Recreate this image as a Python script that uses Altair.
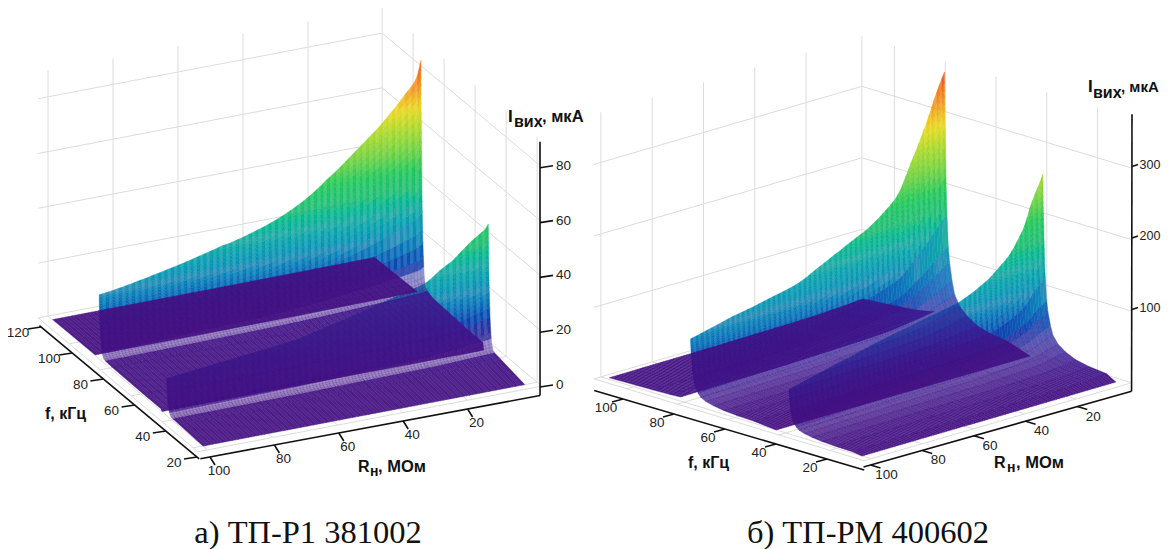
import altair as alt
import pandas as pd

alt.data_transformers.disable_max_rows()

# ---- values ----
R_COLS = list(range(100, 9, -2)) + list(range(9, 0, -1))

L_H1 = [23.4,23.7,24,24.4,24.8,25.2,25.7,26.1,26.6,27.1,27.6,28.1,28.6,29.1,29.7,30.3,30.9,31.5,32.1,32.8,33.1,33.7,34.3,35,35.7,36.5,37.3,38.2,39.2,40.3,41.5,42.8,44.2,45.8,47.5,49.5,51.2,53,55,57,59,61,63,65,67.4,69.8,71,72.3,73.6,75,76.3,77.5,79,81.5,86.5]
L_H2 = [13.5,13.7,14,14.2,14.5,14.7,15,15.2,15.5,15.7,16,16.2,16.5,16.7,17,17.2,17.5,17.8,18,18.3,18.6,19.1,19.7,20.2,20.7,21.3,21.9,22.4,23,23.6,24.2,24.8,25.4,26,26.6,27.2,27.8,28.4,29,29.6,30.4,32,33.8,35.2,36.5,38.6,39.6,40.6,41.6,42.5,43.3,44.1,44.9,45.7,47.5]
R_H1 = [91,92.7,94.4,96.1,97.8,99.5,101.3,103.2,105,106.2,107.5,108.8,110,111.7,113.3,115,116.5,118,119.5,121,122.8,125,128,131.5,135.5,139,142.5,146,150,153,157,160.5,164,167.5,170.5,175,180,185,191,197,204,215,231,248,263,280,289,297,307,317,327,336,345,353,361]
R_H2 = [62,63.8,65.5,67.3,69,70.8,72.5,74.3,76,77.8,79.5,81,82.5,84,86,88,90,91.5,93,94.5,96,97.5,99,100,101.5,103,104.5,106,107,108.5,110,111,112.5,114,117,120,123,127,131,135,141,147,153,160,170,182,188,196,206,218,227,235,243,250,260]

# distance below a resonance (kHz), share of the ridge height, face opacity
L_D = [40,30,8,4,3.5,3,2.6,2.2,1.9,1.6,1.3,1.1,.9,.78,.7,.62,.55,.47,.4,.34,.3,.25,.2,.16,.12,.09,.06,.03,0]
L_P = [.03,.03,.04,.05,.055,.06,.08,.1,.14,.18,.24,.3,.37,.41,.45,.49,.53,.57,.62,.66,.7,.74,.78,.82,.86,.9,.93,.96,1]
L_A = [.94,.94,.94,.94,.5,.5,.5,.5,.5,.85] + [.97] * 19
R_D = [34,25,18,13,9,6,4,3,2,1.5,1,.85,.7,.6,.52,.45,.38,.3,.25,.2,.16,.12,.09,.06,.03,0]
R_P = [.015,.03,.04,.055,.08,.11,.15,.2,.27,.33,.45,.49,.55,.6,.64,.68,.72,.76,.79,.82,.85,.88,.905,.93,.96,1]
R_A = [.95,.95,.93,.9,.85,.8,.76,.76,.84,.92,.95] + [.97] * 15
# distance above the far resonance and share of its height behind it
L_REAR = [(2.5,.012),(30,.005)]
R_REAR = [(4,.06),(8,.05),(15,.04),(32,.025)]

T_STOPS = [0,.05,.15,.27,.38,.46,.56,.72,.8,.88,1]
T_COLORS = ['#440f80','#3a1a92','#0c35a8','#2488b5','#1fa8a0','#1fbc74','#22c850','#a8d824','#e8d820','#f09a20','#f03c20']

F_TICKS_L = [120,100,80,60,40,20]
F_TICKS_R = [100,80,60,40,20]
R_TICKS = [100,80,60,40,20]
Z_TICKS_L = [0,20,40,60,80]
Z_TICKS_R = [100,200,300]
Z_LEVELS_L = [0,20,40,60,80]
Z_LEVELS_R = [0,100,200,300]

OX, OY = 8, 8
W, H = 1153, 541

left = dict(x0=203,y0=446,rx=3.25,ry=.62,fx=1.55,fy=1.30,fmin=20,zs=2.74,zmax=87,
            h1=L_H1,h2=L_H2,f1=87,f2=43.5,D=L_D,P=L_P,A=L_A,rear=L_REAR,gap2=3,
            fb=(17,120),rb=(103,-2.8),ztop=89.5,levels=Z_LEVELS_L,
            ax=(197,457,1.56,1.3),ar=(532,397,3.22,.6),az=(540,387,2.74),
            faxis=(121,18.6),raxis=(103,-2.5),zaxis=89.5,
            ftick=(-13,2),rtick=(5,8),ztick=(13,-2),flab=(-23,6),rlab=(9,14),zlab=(16,-2),zfont=13.5,
            fticks=F_TICKS_L,zticks=Z_TICKS_L)
right = dict(x0=862,y0=456,rx=2.565,ry=.747,fx=2.54,fy=.77,fmin=10,zs=.715,zmax=362,
             h1=R_H1,h2=R_H2,f1=77.5,f2=38.8,D=R_D,P=R_P,A=R_A,rear=R_REAR,gap2=5,
             fb=(6.5,112.8),rb=(102.7,-1.75),ztop=370,levels=Z_LEVELS_R,
             ax=(827,459,2.55,.75),ar=(1129,392,2.585,.73),az=(1132,381,.715),
             faxis=(111.3,5.4),raxis=(102.7,-1),zaxis=373,
             ftick=(-11,3),rtick=(6,-2),ztick=(6,-2),flab=(-17,9),rlab=(16,10),zlab=(7.5,-2),zfont=12.5,
             fticks=F_TICKS_R,zticks=Z_TICKS_R)
right['rtick'] = (10, 3)


def proj(c, R, f, z=0):
    return (c['x0'] + (100 - R) * c['rx'] - (f - c['fmin']) * c['fx'] - OX,
            c['y0'] - (100 - R) * c['ry'] - (f - c['fmin']) * c['fy'] - c['zs'] * z - OY)


def rows_of(c):
    rows = [(c['fmin'], 0, 0, .94)]
    for d, p, a in zip(c['D'], c['P'], c['A']):
        if c['f2'] - d > c['fmin']:
            rows.append((c['f2'] - d, 0, p, a))
    rows.append((c['f2'] + c['gap2'], 0, 0, 0))
    for d, p, a in zip(c['D'], c['P'], c['A']):
        if c['f1'] - d > c['f2'] + c['gap2']:
            rows.append((c['f1'] - d, p, 0, a))
    for n, (d, p) in enumerate(c['rear']):
        rows.append((c['f1'] + d, p, 0, 0 if n == 0 else .95))
    return rows


def surface(c):
    rows = rows_of(c)
    feats = []

    def corner(col, f, p1, p2):
        z = c['h1'][col] * p1 + c['h2'][col] * p2
        return proj(c, R_COLS[col], f, z), z

    for i in range(len(rows) - 1):
        f_a, p1a, p2a, _ = rows[i]
        f_b, p1b, p2b, alpha = rows[i + 1]
        if alpha == 0:
            continue
        hatch = .85 if alpha >= .97 else .97
        for j in range(len(R_COLS) - 1):
            (a0, z0), (a1, z1) = corner(j, f_a, p1a, p2a), corner(j + 1, f_a, p1a, p2a)
            (b0, z2), (b1, z3) = corner(j, f_b, p1b, p2b), corner(j + 1, f_b, p1b, p2b)
            t = round((z0 + z1 + z2 + z3) / 4 / c['zmax'], 4)
            parts = 2 if R_COLS[j] - R_COLS[j + 1] > 1 else 1
            for k in range(parts):
                u0, u1 = k / parts, (k + 1) / parts
                mix = lambda p, q, u: [round(p[0] + (q[0] - p[0]) * u, 2), round(p[1] + (q[1] - p[1]) * u, 2)]
                ring = [mix(a0, a1, u0), mix(a0, a1, u1), mix(b0, b1, u1), mix(b0, b1, u0)]
                ring.append(ring[0])
                shade = alpha * (1 if k == 0 else hatch) if parts == 2 else alpha * (1 if j % 2 else hatch)
                feats.append({'type': 'Feature',
                              'geometry': {'type': 'Polygon', 'coordinates': [ring]},
                              'properties': {'t': t, 'a': round(shade, 3)}})
    return feats


def grid(c):
    out = []
    fa, fb = c['fb'][1], c['fb'][0]
    ra, rb = c['rb'][0], c['rb'][1]

    def seg(p, q):
        out.append(dict(x=p[0], y=p[1], x2=q[0], y2=q[1]))
    for z in c['levels']:
        seg(proj(c, ra, fa, z), proj(c, rb, fa, z))
        seg(proj(c, rb, fa, z), proj(c, rb, fb, z))
    for R in R_TICKS:
        seg(proj(c, R, fa, 0), proj(c, R, fa, c['ztop']))
        seg(proj(c, R, fa, 0), proj(c, R, fb, 0))
    for f in c['fticks']:
        if f < fa:
            seg(proj(c, rb, f, 0), proj(c, rb, f, c['ztop']))
            seg(proj(c, rb, f, 0), proj(c, ra, f, 0))
    seg(proj(c, rb, fa, 0), proj(c, rb, fa, c['ztop']))
    seg(proj(c, ra, fa, 0), proj(c, ra, fb, 0))
    seg(proj(c, ra, fb, 0), proj(c, rb, fb, 0))
    return out


def axes(c):
    segs, center, lefts = [], [], []
    a0, b0, ax, ay = c['ax']
    r0, s0, rx, ry = c['ar']
    zx, z0, zs = c['az']
    fp = lambda f: (a0 - (f - 20) * ax - OX, b0 - (f - 20) * ay - OY)
    rp = lambda R: (r0 - R * rx - OX, s0 + R * ry - OY)
    zp = lambda z: (zx - OX, z0 - z * zs - OY)

    def seg(p, q):
        segs.append(dict(x=p[0], y=p[1], x2=q[0], y2=q[1]))
    seg(fp(c['faxis'][0]), fp(c['faxis'][1]))
    seg(rp(c['raxis'][0]), rp(c['raxis'][1]))
    seg(rp(c['raxis'][1]), zp(c['zaxis']))
    for f in c['fticks']:
        p = fp(f)
        seg(p, (p[0] + c['ftick'][0], p[1] + c['ftick'][1]))
        center.append(dict(x=p[0] + c['flab'][0], y=p[1] + c['flab'][1], t=str(f)))
    for R in R_TICKS:
        p = rp(R)
        seg(p, (p[0] + c['rtick'][0], p[1] + c['rtick'][1]))
        center.append(dict(x=p[0] + c['rlab'][0], y=p[1] + c['rlab'][1], t=str(R)))
    for z in c['zticks']:
        p = zp(z)
        seg(p, (p[0] + c['ztick'][0], p[1] + c['ztick'][1]))
        lefts.append(dict(x=p[0] + c['zlab'][0], y=p[1] + c['zlab'][1], t=str(z), s=c['zfont']))
    return segs, center, lefts


TITLES = [
    ('I', 508, 117, 17), ('вих', 514, 122, 16), (', мкА', 542, 117, 16.5),
    ('f, кГц', 45, 414, 16),
    ('R', 358, 467, 16), ('н', 370, 472, 14), (', МОм', 378, 467, 16.5),
    ('I', 1088, 87, 17), ('вих', 1093, 93, 16), (', мкА', 1121, 87, 15),
    ('f, кГц', 688, 463, 16),
    ('R', 994, 463, 16), ('н', 1007, 468, 14), (', МОм', 1016, 463, 16.5),
]
CAPTIONS = [('а) ТП-Р1 381002', 308, 543), ('б) ТП-РМ 400602', 868, 543)]

xs = alt.Scale(domain=[0, W], range=[0, W], nice=False, zero=False)
ys = alt.Scale(domain=[0, H], range=[0, H], nice=False, zero=False)
X = alt.X('x:Q', scale=xs, axis=None)
Y = alt.Y('y:Q', scale=ys, axis=None)

grid_df = pd.DataFrame(grid(left) + grid(right))
segsL, cenL, lefL = axes(left)
segsR, cenR, lefR = axes(right)
axis_df = pd.DataFrame(segsL + segsR)
cen_df = pd.DataFrame(cenL + cenR)
lef_df = pd.DataFrame(lefL + lefR)
tit_df = pd.DataFrame([dict(t=t, x=x - OX, y=y - OY, s=s) for t, x, y, s in TITLES])
cap_df = pd.DataFrame([dict(t=t, x=x - OX, y=y - OY) for t, x, y in CAPTIONS])

colour_scale = alt.Scale(domain=T_STOPS, range=T_COLORS, clamp=True)
grid_layer = alt.Chart(grid_df).mark_rule(color='#dcdcdc', strokeWidth=1).encode(X, Y, x2='x2:Q', y2='y2:Q')
axis_layer = alt.Chart(axis_df).mark_rule(color='#111111', strokeWidth=1.6).encode(X, Y, x2='x2:Q', y2='y2:Q')
surf_layer = alt.Chart(alt.Data(values=surface(left) + surface(right))).mark_geoshape(strokeWidth=.4).encode(
    color=alt.Color('properties.t:Q', scale=colour_scale, legend=None),
    stroke=alt.Stroke('properties.t:Q', scale=colour_scale, legend=None),
    opacity=alt.Opacity('properties.a:Q', scale=None, legend=None),
).project(type='identity', scale=1, translate=[0, 0])
cen_layer = alt.Chart(cen_df).mark_text(font='Liberation Sans', fontSize=13.5, color='#222222', align='center', baseline='middle').encode(X, Y, text='t:N')
lef_layer = alt.Chart(lef_df).mark_text(font='Liberation Sans', color='#222222', align='left', baseline='middle').encode(
    X, Y, text='t:N', size=alt.Size('s:Q', scale=None, legend=None))
tit_layer = alt.Chart(tit_df).mark_text(font='Liberation Sans', fontWeight='bold', color='#111111', align='left', baseline='middle').encode(
    X, Y, text='t:N', size=alt.Size('s:Q', scale=None, legend=None))
cap_layer = alt.Chart(cap_df).mark_text(font='Liberation Serif', fontSize=32.5, color='#111111', align='center', baseline='alphabetic').encode(X, Y, text='t:N')

chart = alt.layer(grid_layer, surf_layer, axis_layer, cen_layer, lef_layer, tit_layer, cap_layer).properties(
    width=W, height=H, padding=0, background='white', autosize=alt.AutoSizeParams(type='none')
).configure_view(stroke=None)

chart.save("out.html", embed_options={"renderer": "svg", "actions": False})
